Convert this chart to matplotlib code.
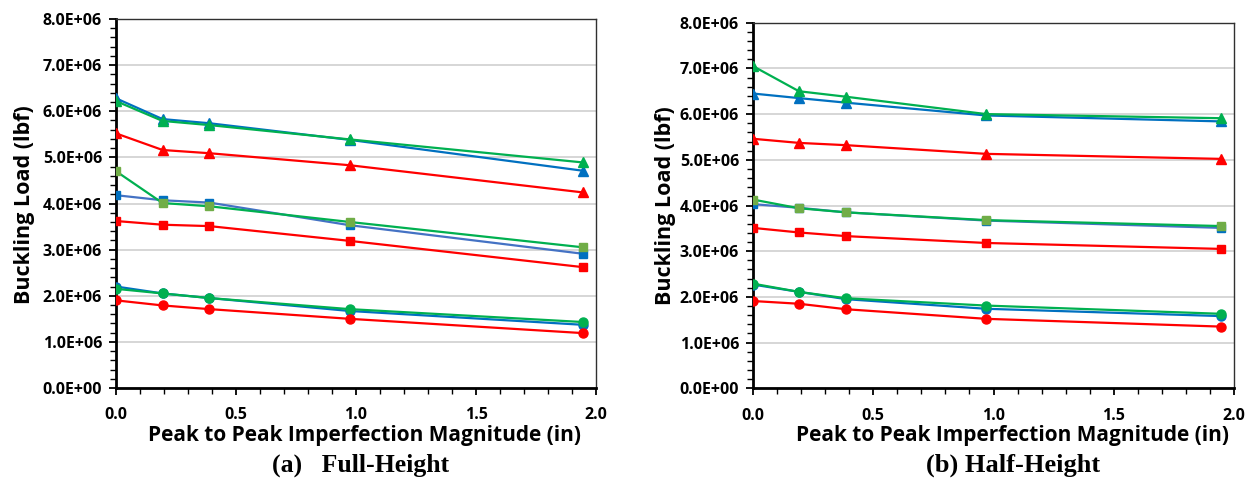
import matplotlib
matplotlib.use("Agg")
import matplotlib.pyplot as plt
from matplotlib.ticker import MultipleLocator, FuncFormatter

# x positions (peak-to-peak imperfection magnitude, in)
x_full = [0.0, 0.194, 0.389, 0.973, 1.946]
x_half = [0.0, 0.191, 0.387, 0.970, 1.947]

# Full-Height buckling loads (lbf)
full_tri_blue = [6.28e6, 5.83e6, 5.74e6, 5.38e6, 4.71e6]
full_tri_green = [6.22e6, 5.79e6, 5.70e6, 5.39e6, 4.89e6]
full_tri_red = [5.52e6, 5.16e6, 5.09e6, 4.83e6, 4.24e6]
full_sq_green = [4.70e6, 4.01e6, 3.94e6, 3.60e6, 3.05e6]
full_sq_blue = [4.18e6, 4.07e6, 4.02e6, 3.53e6, 2.91e6]
full_sq_red = [3.62e6, 3.54e6, 3.51e6, 3.19e6, 2.62e6]
full_ci_blue = [2.20e6, 2.05e6, 1.95e6, 1.67e6, 1.37e6]
full_ci_green = [2.15e6, 2.05e6, 1.95e6, 1.71e6, 1.43e6]
full_ci_red = [1.90e6, 1.79e6, 1.71e6, 1.50e6, 1.19e6]

# Half-Height buckling loads (lbf)
half_tri_green = [7.05e6, 6.50e6, 6.38e6, 6.00e6, 5.91e6]
half_tri_blue = [6.45e6, 6.35e6, 6.25e6, 5.97e6, 5.84e6]
half_tri_red = [5.46e6, 5.37e6, 5.32e6, 5.13e6, 5.02e6]
half_sq_green = [4.13e6, 3.94e6, 3.85e6, 3.68e6, 3.55e6]
half_sq_blue = [4.03e6, 3.95e6, 3.85e6, 3.67e6, 3.51e6]
half_sq_red = [3.51e6, 3.41e6, 3.33e6, 3.18e6, 3.05e6]
half_ci_green = [2.29e6, 2.11e6, 1.97e6, 1.81e6, 1.63e6]
half_ci_blue = [2.27e6, 2.11e6, 1.95e6, 1.74e6, 1.58e6]
half_ci_red = [1.91e6, 1.85e6, 1.73e6, 1.52e6, 1.35e6]

captions = ["(a)   Full-Height", "(b) Half-Height"]
xlabel = "Peak to Peak Imperfection Magnitude (in)"
ylabel = "Buckling Load (lbf)"

RED = "#FF0000"
BLUE = "#0070C0"
GREEN = "#00B050"
OLIVE = "#70AD47"
SQBLUE = "#4472C4"
SANS = "Open Sans"

plt.rcParams["font.family"] = [SANS, "DejaVu Sans"]
plt.rcParams["font.weight"] = "bold"

fig = plt.figure(figsize=(12.55, 4.8), dpi=100)
axes = [fig.add_axes([116/1255, 1-388/480, 480/1255, 369/480]),
        fig.add_axes([753/1255, 1-388.3/480, 481/1255, 365.6/480])]

full = [
    (full_tri_blue, BLUE, BLUE, "^"), (full_tri_green, GREEN, GREEN, "^"), (full_tri_red, RED, RED, "^"),
    (full_sq_blue, SQBLUE, BLUE, "s"), (full_sq_green, GREEN, OLIVE, "s"), (full_sq_red, RED, RED, "s"),
    (full_ci_blue, BLUE, BLUE, "o"), (full_ci_green, GREEN, GREEN, "o"), (full_ci_red, RED, RED, "o"),
]
half = [
    (half_tri_blue, BLUE, BLUE, "^"), (half_tri_green, GREEN, GREEN, "^"), (half_tri_red, RED, RED, "^"),
    (half_sq_blue, SQBLUE, BLUE, "s"), (half_sq_green, GREEN, OLIVE, "s"), (half_sq_red, RED, RED, "s"),
    (half_ci_blue, BLUE, BLUE, "o"), (half_ci_green, GREEN, GREEN, "o"), (half_ci_red, RED, RED, "o"),
]

for ax, xs, data in zip(axes, [x_full, x_half], [full, half]):
    for ys, lc, mc, mk in data:
        ax.plot(xs, ys, color=lc, lw=1.6, marker=mk, markersize=6.5 if mk != "s" else 6,
                markerfacecolor=mc, markeredgecolor=mc, zorder=3)
    ax.set_xlim(0, 2.0)
    ax.set_ylim(0, 8e6)
    ax.xaxis.set_major_locator(MultipleLocator(0.5))
    ax.xaxis.set_minor_locator(MultipleLocator(0.1))
    ax.yaxis.set_major_locator(MultipleLocator(1e6))
    ax.yaxis.set_minor_locator(MultipleLocator(2e5))
    ax.xaxis.set_major_formatter(FuncFormatter(lambda v, p: "%.1f" % v))
    ax.yaxis.set_major_formatter(FuncFormatter(lambda v, p: ("%.1E" % v)))
    ax.grid(axis="y", which="major", color="#D0D0D0", lw=1.2, zorder=0)
    ax.set_axisbelow(True)
    for s in ["left", "bottom"]:
        ax.spines[s].set_linewidth(2.0)
        ax.spines[s].set_color("black")
    for s in ["top", "right"]:
        ax.spines[s].set_linewidth(1.0)
        ax.spines[s].set_color("#303030")
    ax.tick_params(axis="both", which="major", direction="out", length=5, width=1.3,
                   labelsize=11.5, colors="black")
    ax.tick_params(axis="both", which="minor", direction="out", length=4, width=1.0)
    ax.tick_params(axis="x", which="major", pad=9)
    ax.tick_params(axis="y", which="major", pad=5)

fig.text(25/1255, 1-205/480, ylabel, rotation=90, ha="center", va="center",
         fontsize=15.5, fontweight="bold")
fig.text(665/1255, 1-206/480, ylabel, rotation=90, ha="center", va="center",
         fontsize=15.5, fontweight="bold")
fig.text(364/1255, 1-436/480, xlabel, ha="center", va="center",
         fontsize=15, fontweight="bold")
fig.text(1012/1255, 1-436/480, xlabel, ha="center", va="center",
         fontsize=15, fontweight="bold")
fig.text(361/1255, 1-465/480, captions[0], ha="center", va="center",
         fontsize=18.5, fontweight="bold", family="Liberation Serif")
fig.text(1013/1255, 1-465/480, captions[1], ha="center", va="center",
         fontsize=19, fontweight="bold", family="Liberation Serif")

fig.savefig("out.png", dpi=100)
